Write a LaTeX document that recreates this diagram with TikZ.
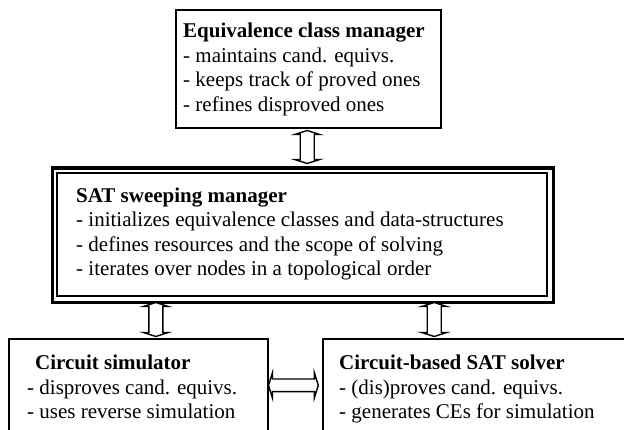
\documentclass[tikz,border=0pt]{standalone}
\usepackage{fontspec}
\setmainfont{Liberation Serif}
\usetikzlibrary{calc}
\tikzset{
  box/.style={draw, line width=2pt, rectangle, inner sep=0pt, anchor=north west},
  txt/.style={anchor=base west, inner sep=0pt, font=\fontsize{21}{24.5}\selectfont},
  arrowline/.style={draw, line width=1.4pt, fill=white, line join=miter}
}
\newcommand\vdarrow[2]{\draw[arrowline] let \p1=(#1), \p2=(#2) in
  (\p1) -- (\x1+12.5pt,\y1-4pt) -- (\x1+7pt,\y1-4pt) -- (\x1+7pt,\y2+4pt) -- (\x1+12.5pt,\y2+4pt)
  -- (\x1,\y2) -- (\x1-12.5pt,\y2+4pt) -- (\x1-7pt,\y2+4pt) -- (\x1-7pt,\y1-4pt) -- (\x1-12.5pt,\y1-4pt) -- cycle;}
\newcommand\hdarrow[2]{\draw[arrowline] let \p1=(#1), \p2=(#2) in
  (\p1) -- (\x1+4pt,\y1+12.8pt) -- (\x1+4pt,\y1+6.3pt) -- (\x2-4pt,\y1+6.3pt) -- (\x2-4pt,\y1+12.8pt)
  -- (\x2,\y1) -- (\x2-4pt,\y1-12.8pt) -- (\x2-4pt,\y1-6.3pt) -- (\x1+4pt,\y1-6.3pt) -- (\x1+4pt,\y1-12.8pt) -- cycle;}
\begin{document}
\begin{tikzpicture}[x=1pt,y=-1pt]
\useasboundingbox (0,0) rectangle (624,430);
\clip (0,0) rectangle (624,430);
% boxes
\node[box, minimum width=265pt, minimum height=118pt] (eq) at (175,9.5) {};
\node[box, line width=3.3pt, minimum width=501pt, minimum height=134.5pt] (satout) at (51,166.5) {};
\node[box, line width=2.3pt, minimum width=490.2pt, minimum height=122.7pt] (satin) at (55.5,172) {};
\node[box, minimum width=258.4pt, minimum height=120pt] (sim) at (8.3,338.3) {};
\node[box, minimum width=320pt, minimum height=120pt] (solver) at (321.7,338.3) {};
% texts
\node[txt] (eqt) at (183,38) {\begin{tabular}[t]{@{}l@{}}\textbf{Equivalence class manager}\\- maintains cand. equivs.\\- keeps track of proved ones\\- refines disproved ones\end{tabular}};
\node[txt] (satt) at (76,202.5) {\begin{tabular}[t]{@{}l@{}}\textbf{SAT sweeping manager}\\- initializes equivalence classes and data-structures\\- defines resources and the scope of solving\\- iterates over nodes in a topological order\end{tabular}};
\node[txt] (simt) at (27,370) {\begin{tabular}[t]{@{}l@{}}\hspace*{8pt}\textbf{Circuit simulator}\\- disproves cand. equivs.\\- uses reverse simulation\end{tabular}};
\node[txt] (solvt) at (339,370) {\begin{tabular}[t]{@{}l@{}}\textbf{Circuit-based SAT solver}\\- (dis)proves cand. equivs.\\- generates CEs for simulation\end{tabular}};
% arrow end points
\coordinate (a1t) at (307.2,130.5);
\coordinate (a1b) at (307.2,163.5);
\coordinate (a2t) at (155.8,302.5);
\coordinate (a2b) at (155.8,336.5);
\coordinate (a3t) at (434.2,302.5);
\coordinate (a3b) at (434.2,336.5);
\coordinate (a4l) at (268.5,385.3);
\coordinate (a4r) at (318.3,385.3);
\vdarrow{a1t}{a1b}
\vdarrow{a2t}{a2b}
\vdarrow{a3t}{a3b}
\hdarrow{a4l}{a4r}
\end{tikzpicture}
\end{document}
